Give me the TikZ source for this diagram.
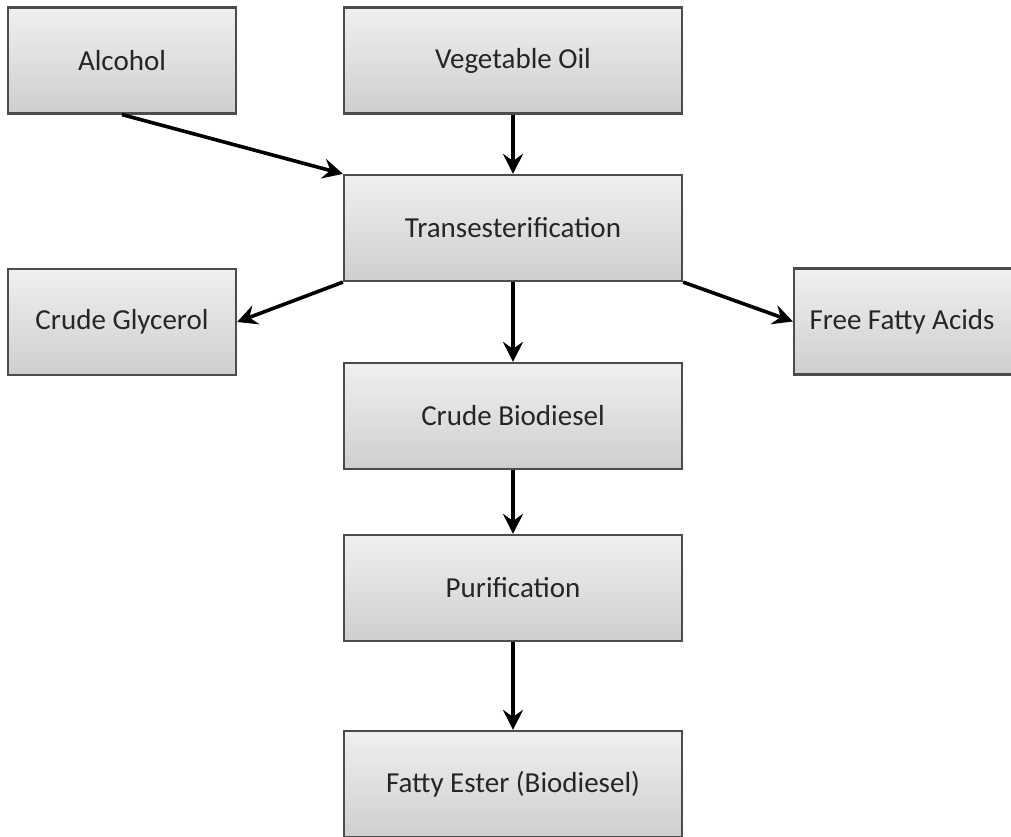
\documentclass[tikz,border=0pt]{standalone}
\usepackage{fontspec}
\setmainfont{Carlito}
\usetikzlibrary{arrows.meta}
\begin{document}
\begin{tikzpicture}[x=1pt,y=-1pt,
  procbox/.style={draw=black!70, line width=2.2pt, top color=black!6, bottom color=black!19,
    minimum width=338pt, minimum height=106pt, inner sep=0pt, font=\fontsize{29}{35}\selectfont, text=black!85},
  sidebox/.style={procbox, minimum width=228pt},
  flow/.style={line width=3.6pt, -{Stealth[length=20pt,width=20pt,inset=7pt]}}]
\clip (0,0) rectangle (1011,837);
\fill[white] (0,0) rectangle (1011,837);
\node[sidebox] (alc) at (122,60.5) {Alcohol};
\node[procbox] (veg) at (513,60.5) {Vegetable Oil};
\node[procbox] (tra) at (513,228) {Transesterification};
\node[sidebox] (gly) at (122,322) {Crude Glycerol};
\node[sidebox] (ffa) at (908,321.5) {\hspace*{-12pt}Free Fatty Acids};
\node[procbox] (cbd) at (513,416) {Crude Biodiesel};
\node[procbox] (pur) at (513,588) {Purification};
\node[procbox] (fae) at (513,784) {Fatty Ester (Biodiesel)};
\draw[flow] (alc.south) -- (tra.north west);
\draw[flow] (veg.south) -- (tra.north);
\draw[flow] (tra.south west) -- (gly.east);
\draw[flow] (tra.south east) -- (ffa.west);
\draw[flow] (tra.south) -- (cbd.north);
\draw[flow] (cbd.south) -- (pur.north);
\draw[flow] (pur.south) -- (fae.north);
\end{tikzpicture}
\end{document}
